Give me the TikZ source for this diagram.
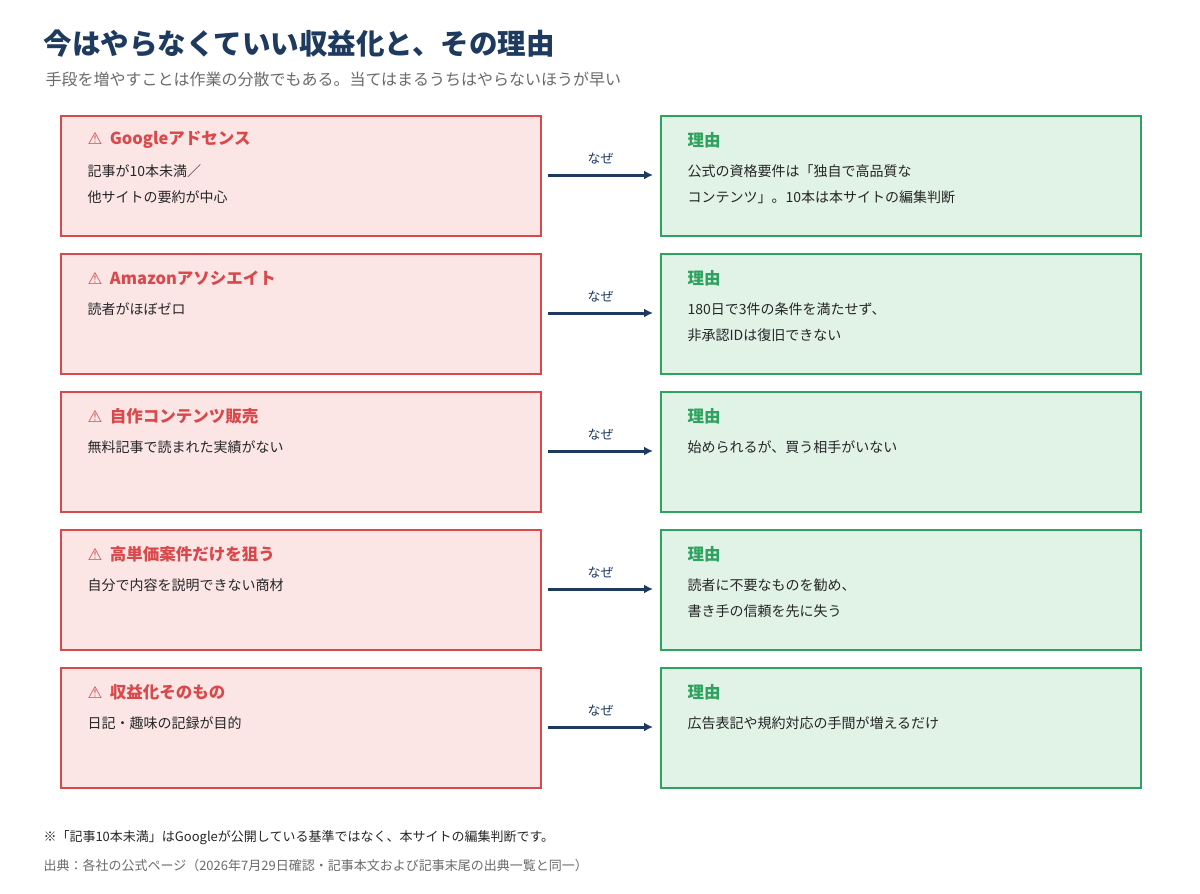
\documentclass[tikz,border=0pt]{standalone}
\usepackage{fontspec}
\setmainfont{Noto Sans CJK JP}
\newfontfamily\dejavu{DejaVu Sans}
\usetikzlibrary{arrows.meta}
\definecolor{navy}{HTML}{1F3A5F}
\definecolor{gr}{HTML}{6B6B6B}
\definecolor{rb}{HTML}{D9484B}
\definecolor{rf}{HTML}{FBE6E5}
\definecolor{gb}{HTML}{2EA35F}
\definecolor{gf}{HTML}{E1F2E7}
\begin{document}
\begin{tikzpicture}[x=1pt,y=-1pt,
 lbox/.style={draw=rb,fill=rf,line width=2pt},
 rbox/.style={draw=gb,fill=gf,line width=2pt},
 hd/.style={anchor=west,font=\fontsize{16.5}{20}\selectfont\bfseries},
 bd/.style={anchor=north west,align=left,font=\fontsize{14}{26}\selectfont,text=black!85},
 arr/.style={draw=navy,line width=3pt,-{Latex[length=9pt,width=9pt]}},
 why/.style={font=\fontsize{13}{14}\selectfont,text=navy}]
\useasboundingbox[fill=white] (0,0) rectangle (1200,894);
\node[anchor=west,text=navy,font=\fontsize{28.5}{32}\selectfont\bfseries] (title) at (40,44) {今はやらなくていい収益化と、その理由};
\node[anchor=west,text=gr,font=\fontsize{16}{19}\selectfont] (sub) at (42,79) {手段を増やすことは作業の分散でもある。当てはまるうちはやらないほうが早い};
\foreach \i/\y/\h/\b/\r in {
 1/115/{Googleアドセンス}/{記事が10本未満／\\他サイトの要約が中心}/{公式の資格要件は「独自で高品質な\\コンテンツ」。10本は本サイトの編集判断},
 2/253/{Amazonアソシエイト}/{読者がほぼゼロ}/{180日で3件の条件を満たせず、\\非承認IDは復旧できない},
 3/391/{自作コンテンツ販売}/{無料記事で読まれた実績がない}/{始められるが、買う相手がいない},
 4/529/{高単価案件だけを狙う}/{自分で内容を説明できない商材}/{読者に不要なものを勧め、\\書き手の信頼を先に失う},
 5/667/{収益化そのもの}/{日記・趣味の記録が目的}/{広告表記や規約対応の手間が増えるだけ}}{
 \node[lbox,minimum width=480pt,minimum height=120pt,anchor=north west] (L\i) at (60,\y) {};
 \node[rbox,minimum width=480pt,minimum height=120pt,anchor=north west] (R\i) at (660,\y) {};
 \node[hd,text=rb] (LH\i) at (84,\y+25) {{\dejavu ⚠}\ \ \h};
 \node[bd] (LB\i) at (84,\y+46) {\b};
 \node[hd,text=gb] (RH\i) at (684,\y+25) {理由};
 \node[bd] (RB\i) at (684,\y+46) {\r};
 \coordinate (a\i) at (548,\y+60);
 \coordinate (b\i) at (653,\y+60);
 \draw[arr] (a\i) -- (b\i) node[why,midway,above=6pt] (w\i) {なぜ};
}
\node[anchor=west,font=\fontsize{13}{15}\selectfont,text=black!85] (n1) at (40,838) {※「記事10本未満」はGoogleが公開している基準ではなく、本サイトの編集判断です。};
\node[anchor=west,font=\fontsize{13}{15}\selectfont,text=gr] (n2) at (40,866) {出典：各社の公式ページ（2026年7月29日確認・記事本文および記事末尾の出典一覧と同一）};
\end{tikzpicture}
\end{document}
